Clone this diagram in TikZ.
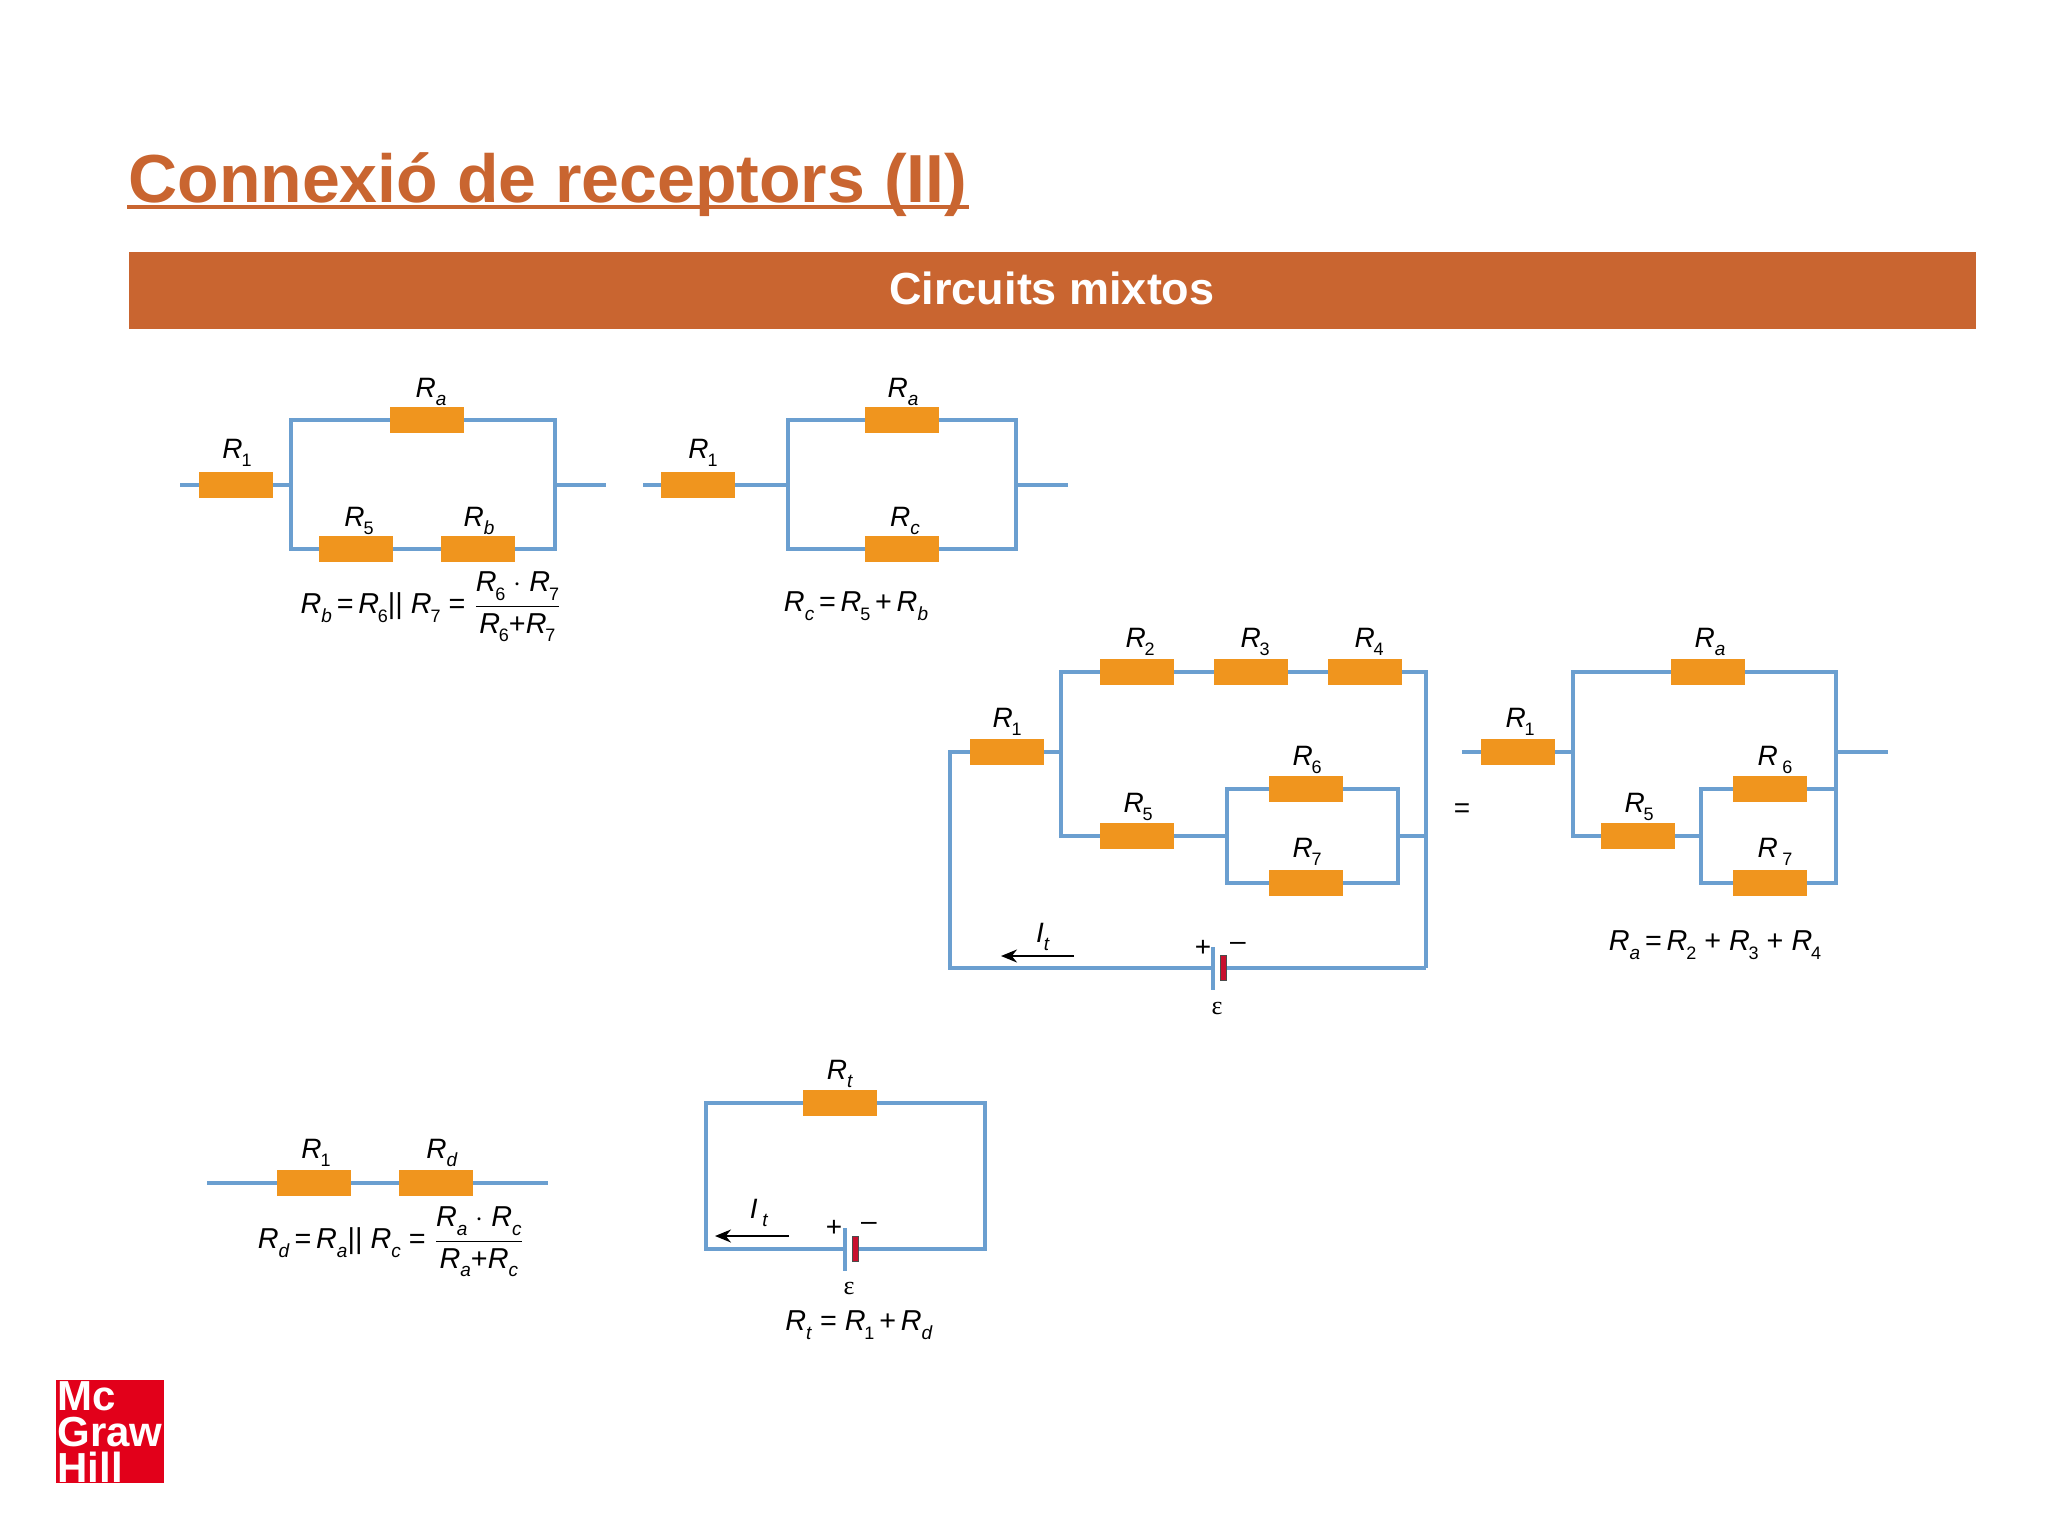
\documentclass[tikz,border=0pt]{standalone}
\usepackage{fontspec}
\usetikzlibrary{arrows.meta}
\setmainfont{Liberation Sans}
\newfontfamily\serifgreek{Liberation Serif}
\definecolor{rustc}{HTML}{C96530}
\definecolor{wirec}{HTML}{6B9FD0}
\definecolor{resc}{HTML}{F0951E}
\definecolor{batc}{HTML}{C8102E}
\definecolor{logoc}{HTML}{E2001A}
\newcommand{\Rl}[1]{\textit{R}\raisebox{-0.55ex}{\fontsize{9.5}{9.5}\selectfont\textit{#1}}}
\newcommand{\Rn}[1]{\textit{R}\kern-0.6pt\raisebox{-0.55ex}{\fontsize{9}{9}\selectfont #1}}
\newcommand{\Fr}[2]{$\displaystyle{\mbox{#1}\above 0.9pt\mbox{#2}}$}
\tikzset{
    wire/.style={draw=wirec, line width=2.2pt},
    res/.style={fill=resc, minimum width=37pt, minimum height=13pt, inner sep=0pt},
    lab/.style={inner sep=0pt, font=\fontsize{14}{14}\selectfont},
    form/.style={inner sep=0pt, font=\fontsize{14.4}{15}\selectfont},
    plate/.style={fill=wirec, minimum width=2pt, minimum height=21.5pt, inner sep=0pt},
    cell/.style={fill=batc, draw=black!70, line width=0.4pt, minimum width=3pt, minimum height=12.5pt, inner sep=0pt},
    cur/.style={-{Stealth[length=8pt,width=6.5pt]}, line width=1pt, black}
}
\begin{document}
\begin{tikzpicture}[x=0.5pt, y=-0.5pt]
        \useasboundingbox (0,0) rectangle (2048,1536);

        \node[inner sep=0pt, anchor=base west, text=rustc, font=\fontsize{34}{34}\selectfont\bfseries] (title) at (128,202) {Connexió de receptors (II)};
        \coordinate (ulA) at (127,206.5);
        \coordinate (ulB) at (969,206.5);
        \draw[rustc, line width=2pt] (ulA) -- (ulB);
        \node[fill=rustc, minimum width=923.5pt, minimum height=38.5pt, inner sep=0pt] (bar) at (1052.5,290.5) {};
        \node[inner sep=0pt, text=white, font=\fontsize{22.5}{22.5}\selectfont\bfseries] (bartext) at (1052,288) {Circuits mixtos};

        % first circuit
        \node[res] (aR1) at (236,485) {};
        \node[res] (aRa) at (427,420) {};
        \node[res] (aR5) at (356,549) {};
        \node[res] (aRb) at (478,549) {};
        \coordinate (aS) at (180,485);
        \coordinate (aJ1) at (291,485);
        \coordinate (aJ2) at (555,485);
        \coordinate (aE) at (606,485);
        \draw[wire] (aS) -- (aR1);
        \draw[wire] (aR1) -- (aJ1);
        \draw[wire] (aRa.west) -| (aJ1);
        \draw[wire] (aR5.west) -| (aJ1);
        \draw[wire] (aR5) -- (aRb);
        \draw[wire] (aRa.east) -| (aJ2);
        \draw[wire] (aRb.east) -| (aJ2);
        \draw[wire] (aJ2) -- (aE);
        \node[lab] (aL1) at (237,453) {\Rn{1}};
        \node[lab] (aLa) at (431,392) {\Rl{a}};
        \node[lab] (aL5) at (359,521) {\Rn{5}};
        \node[lab] (aLb) at (479,521) {\Rl{b}};
        \node[form] (aF) at (431,607) {\Rl{b}\,=\,\Rn{6}|| \Rn{7} = \Fr{\Rn{6} $\cdot$ \Rn{7}}{\Rn{6}+\Rn{7}}};

        % second circuit
        \node[res] (bR1) at (698,485) {};
        \node[res] (bRa) at (902,420) {};
        \node[res] (bRc) at (902,549) {};
        \coordinate (bS) at (643,485);
        \coordinate (bJ1) at (788,485);
        \coordinate (bJ2) at (1016,485);
        \coordinate (bE) at (1068,485);
        \draw[wire] (bS) -- (bR1);
        \draw[wire] (bR1) -- (bJ1);
        \draw[wire] (bRa.west) -| (bJ1);
        \draw[wire] (bRc.west) -| (bJ1);
        \draw[wire] (bRa.east) -| (bJ2);
        \draw[wire] (bRc.east) -| (bJ2);
        \draw[wire] (bJ2) -- (bE);
        \node[lab] (bL1) at (703,453) {\Rn{1}};
        \node[lab] (bLa) at (903,392) {\Rl{a}};
        \node[lab] (bLc) at (905,521) {\Rl{c}};
        \node[form] (bF) at (856,606) {\Rl{c}\,=\,\Rn{5}\,+\,\Rl{b}};

        % full circuit
        \node[res] (mR1) at (1007,752) {};
        \node[res] (mR2) at (1137,672) {};
        \node[res] (mR3) at (1251,672) {};
        \node[res] (mR4) at (1365,672) {};
        \node[res] (mR5) at (1137,836) {};
        \node[res] (mR6) at (1306,789) {};
        \node[res] (mR7) at (1306,883) {};
        \node[plate] (mPl) at (1213,968) {};
        \node[cell] (mCe) at (1223.5,968) {};
        \coordinate (mC1) at (950,752);
        \coordinate (mC2) at (950,968);
        \coordinate (mC3) at (1426,968);
        \coordinate (mJ1) at (1061,752);
        \coordinate (mJ3) at (1227,836);
        \coordinate (mJ4) at (1398,836);
        \coordinate (mJ5) at (1426,836);
        \draw[wire] (mR1.west) -- (mC1) -- (mC2) -- (mPl.west);
        \draw[wire] (mR1) -- (mJ1);
        \draw[wire] (mR2.west) -| (mJ1);
        \draw[wire] (mR5.west) -| (mJ1);
        \draw[wire] (mR2) -- (mR3);
        \draw[wire] (mR3) -- (mR4);
        \draw[wire] (mR4.east) -| (mC3);
        \draw[wire] (mC3) -- (mCe.east);
        \draw[wire] (mR5) -- (mJ3);
        \draw[wire] (mR6.west) -| (mJ3);
        \draw[wire] (mR7.west) -| (mJ3);
        \draw[wire] (mR6.east) -| (mJ4);
        \draw[wire] (mR7.east) -| (mJ4);
        \draw[wire] (mJ4) -- (mJ5);
        \coordinate (mA1) at (1074,956);
        \coordinate (mA2) at (1001,956);
        \draw[cur] (mA1) -- (mA2);
        \node[lab] (mLI) at (1043,937) {\textit{I}\raisebox{-0.55ex}{\fontsize{9.5}{9.5}\selectfont\textit{t}}};
        \node[lab] (mPlus) at (1203,948) {+};
        \node[lab] (mMinus) at (1238,946) {--};
        \node[inner sep=0pt, font=\fontsize{13}{13}\selectfont\serifgreek] (mEps) at (1217,1008) {ε};
        \node[lab] (mL1) at (1007,722) {\Rn{1}};
        \node[lab] (mL2) at (1140,642) {\Rn{2}};
        \node[lab] (mL3) at (1255,642) {\Rn{3}};
        \node[lab] (mL4) at (1369,642) {\Rn{4}};
        \node[lab] (mL5) at (1138,807) {\Rn{5}};
        \node[lab] (mL6) at (1307,760) {\Rn{6}};
        \node[lab] (mL7) at (1307,852) {\Rn{7}};
        \node[lab] (eq) at (1462,811) {=};

        % reduced circuit
        \node[res] (rR1) at (1518,752) {};
        \node[res] (rRa) at (1708,672) {};
        \node[res] (rR5) at (1638,836) {};
        \node[res] (rR6) at (1770,789) {};
        \node[res] (rR7) at (1770,883) {};
        \coordinate (rS) at (1462,752);
        \coordinate (rJ1) at (1573,752);
        \coordinate (rJ2) at (1836,752);
        \coordinate (rE) at (1888,752);
        \coordinate (rJ3) at (1701,836);
        \coordinate (rJ4) at (1836,789);
        \draw[wire] (rS) -- (rR1);
        \draw[wire] (rR1) -- (rJ1);
        \draw[wire] (rRa.west) -| (rJ1);
        \draw[wire] (rR5.west) -| (rJ1);
        \draw[wire] (rRa.east) -| (rJ2);
        \draw[wire] (rJ2) -- (rE);
        \draw[wire] (rR5) -- (rJ3);
        \draw[wire] (rR6.west) -| (rJ3);
        \draw[wire] (rR7.west) -| (rJ3);
        \draw[wire] (rR7.east) -| (rJ4);
        \draw[wire] (rR6) -- (rJ4);
        \draw[wire] (rJ4) -- (rJ2);
        \node[lab] (rL1) at (1520,722) {\Rn{1}};
        \node[lab] (rLa) at (1710,642) {\Rl{a}};
        \node[lab] (rL5) at (1639,807) {\Rn{5}};
        \node[lab] (rL6) at (1775,760) {\textit{R}\,\raisebox{-0.55ex}{\fontsize{9}{9}\selectfont 6}};
        \node[lab] (rL7) at (1775,852) {\textit{R}\,\raisebox{-0.55ex}{\fontsize{9}{9}\selectfont 7}};
        \node[form] (rF) at (1715,945) {\Rl{a}\,=\,\Rn{2} + \Rn{3} + \Rn{4}};

        % series circuit
        \node[res] (sR1) at (314,1183) {};
        \node[res] (sRd) at (436,1183) {};
        \coordinate (sS) at (207,1183);
        \coordinate (sE) at (548,1183);
        \draw[wire] (sS) -- (sR1);
        \draw[wire] (sR1) -- (sRd);
        \draw[wire] (sRd) -- (sE);
        \node[lab] (sL1) at (316,1153) {\Rn{1}};
        \node[lab] (sLd) at (442,1153) {\Rl{d}};
        \node[form] (sF) at (391,1242) {\Rl{d}\,=\,\Rl{a}|| \Rl{c} = \Fr{\Rl{a} $\cdot$ \Rl{c}}{\Rl{a}+\Rl{c}}};

        % total circuit
        \node[res] (tRt) at (840,1103) {};
        \node[plate] (tPl) at (845,1249) {};
        \node[cell] (tCe) at (855.5,1249) {};
        \coordinate (tC1) at (706,1103);
        \coordinate (tC2) at (706,1249);
        \coordinate (tC3) at (985,1103);
        \coordinate (tC4) at (985,1249);
        \draw[wire] (tRt.west) -- (tC1) -- (tC2) -- (tPl.west);
        \draw[wire] (tRt.east) -- (tC3) -- (tC4) -- (tCe.east);
        \coordinate (tA1) at (789,1236);
        \coordinate (tA2) at (715,1236);
        \draw[cur] (tA1) -- (tA2);
        \node[lab] (tLI) at (759,1213) {\textit{I}\,\raisebox{-0.55ex}{\fontsize{9.5}{9.5}\selectfont\textit{t}}};
        \node[lab] (tPlus) at (834,1228) {+};
        \node[lab] (tMinus) at (869,1226) {--};
        \node[inner sep=0pt, font=\fontsize{13}{13}\selectfont\serifgreek] (tEps) at (849,1288) {ε};
        \node[lab] (tLt) at (840,1074) {\Rl{t}};
        \node[form] (tF) at (859,1325) {\Rl{t} = \Rn{1}\,+\,\Rl{d}};

        % logo
        \node[fill=logoc, minimum width=54pt, minimum height=51.5pt, inner sep=0pt] (logoB) at (110,1431.5) {};
        \node[inner sep=0pt, anchor=base west, align=left, text=white, font=\fontsize{21}{18}\selectfont\bfseries] (logoT) at (57,1482) {Mc\\Graw\\Hill};
\end{tikzpicture}
\end{document}
